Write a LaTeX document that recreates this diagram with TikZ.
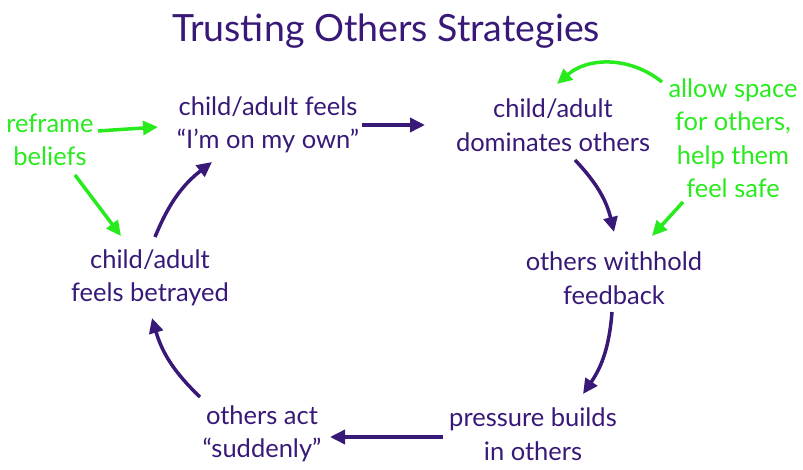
\documentclass[tikz,border=0pt]{standalone}
\usepackage{fontspec}
\setmainfont{Lato}
\usetikzlibrary{arrows.meta}
\definecolor{pur}{RGB}{56,25,120}
\definecolor{grn}{RGB}{40,235,30}
\tikzset{
  lbl/.style={text=pur, align=center, font=\fontsize{25.5}{33.5}\selectfont, inner sep=0pt},
  glbl/.style={text=grn, align=center, font=\fontsize{25.5}{33.5}\selectfont, inner sep=0pt},
  parr/.style={draw=pur, line width=3.5pt, -{Triangle[length=15pt,width=14pt]}},
  garr/.style={draw=grn, line width=3.5pt, -{Triangle[length=15pt,width=14pt]}},
}
\begin{document}
\begin{tikzpicture}[x=1pt,y=-1pt]
\useasboundingbox (0,0) rectangle (803,470);
\node[text=pur, font=\fontsize{37.5}{44}\selectfont, inner sep=0pt] (title) at (386,31) {Trusting Others Strategies};
\node[lbl] (feels) at (268,125) {child/adult feels\\“I’m on my own”};
\node[lbl] (dom) at (553,125) {child/adult\\dominates others};
\node[lbl] (with) at (614,278) {others withhold\\feedback};
\node[lbl] (press) at (533,434) {pressure builds\\in others};
\node[lbl] (sudd) at (262,434) {others act\\“suddenly”};
\node[lbl] (betr) at (150,278) {child/adult\\feels betrayed};
\node[glbl] (refr) at (50,140) {reframe\\beliefs};
\node[glbl] (allow) at (733,138) {allow space\\for others,\\help them\\feel safe};
\coordinate (a1) at (362,125); \coordinate (b1) at (425,125);
\coordinate (a2) at (575,160); \coordinate (b2) at (614,232);
\coordinate (a3) at (612,312); \coordinate (b3) at (583,394);
\coordinate (a4) at (443,437); \coordinate (b4) at (330,437);
\coordinate (a5) at (200,397); \coordinate (b5) at (152,318);
\coordinate (a6) at (155,237); \coordinate (b6) at (212,162);
\coordinate (a7) at (98,131); \coordinate (b7) at (158,127);
\coordinate (a8) at (75,175); \coordinate (b8) at (121,236);
\coordinate (a9) at (662,82); \coordinate (b9) at (557,84);
\coordinate (a10) at (683,202); \coordinate (b10) at (652,236);
\draw[parr] (a1) -- (b1);
\draw[parr] (a2) to[bend left=15] (b2);
\draw[parr] (a3) to[bend left=15] (b3);
\draw[parr] (a4) -- (b4);
\draw[parr] (a5) to[bend left=15] (b5);
\draw[parr] (a6) to[bend left=15] (b6);
\draw[garr] (a7) -- (b7);
\draw[garr] (a8) -- (b8);
\draw[garr] (a9) to[bend right=40] (b9);
\draw[garr] (a10) -- (b10);
\end{tikzpicture}
\end{document}
